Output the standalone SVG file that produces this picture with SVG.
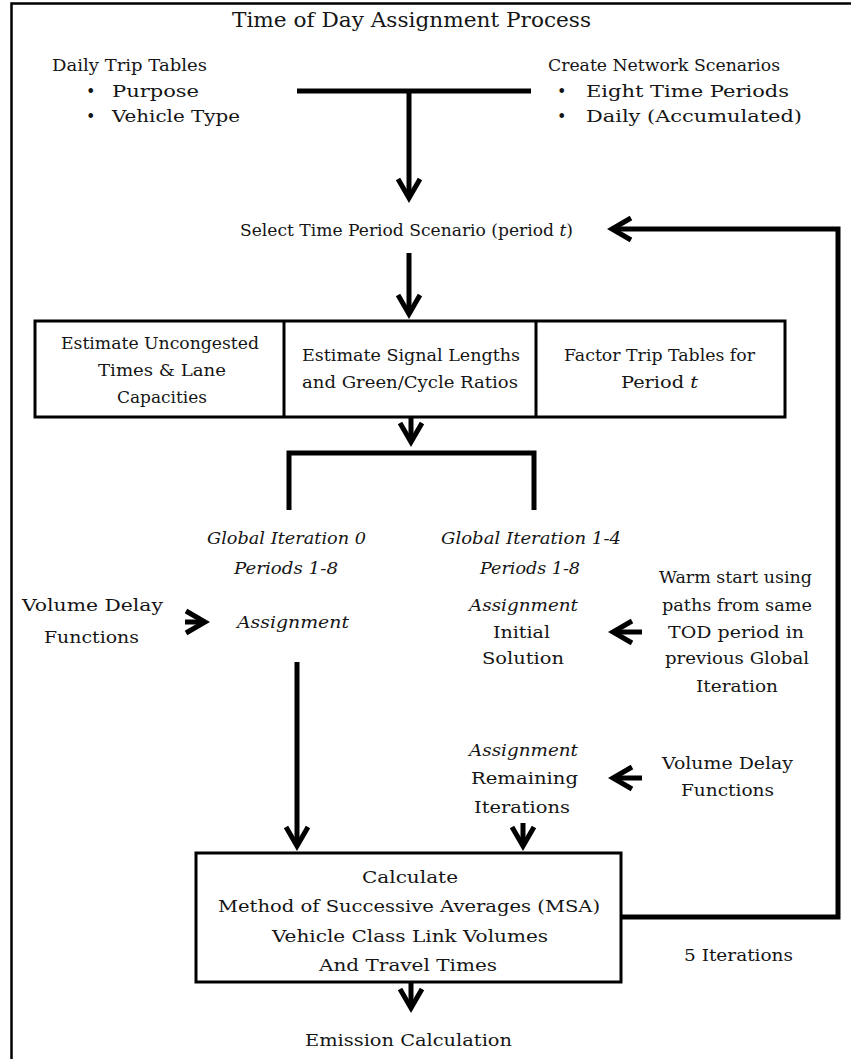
<svg xmlns="http://www.w3.org/2000/svg" width="851" height="1059" viewBox="0 0 851 1059">
<style>
.t{font-family:"DejaVu Serif","Liberation Serif",serif;font-size:16px;fill:#151515}
.i{font-style:italic}
.ttl{font-size:20px}
.ln{fill:none;stroke:#000;stroke-width:5}
.ar{fill:none;stroke:#000;stroke-width:5;marker-end:url(#chev)}
.box{fill:#fff;stroke:#000;stroke-width:3}
.frame{fill:none;stroke:#000;stroke-width:2.5}
</style>
<defs>
<marker id="chev" markerUnits="userSpaceOnUse" markerWidth="40" markerHeight="40" viewBox="-25 -20 40 40" refX="0" refY="0" orient="auto" overflow="visible">
<path d="M-19,-11 L0,0 L-19,11" fill="none" stroke="#000" stroke-width="5" stroke-linejoin="miter"/>
</marker>
</defs>

<g id="frame">
<polyline class="frame" points="11.5,1059 11.5,3.5 851,3.5"/>
</g>

<g id="title">
<text class="t ttl" x="232" y="27" textLength="359" lengthAdjust="spacingAndGlyphs">Time of Day Assignment Process</text>
</g>

<g id="connectors">
<line class="ln" x1="297" y1="91" x2="531" y2="91"/>
<line class="ar" x1="409" y1="91" x2="409" y2="198"/>
<line class="ar" x1="409" y1="253" x2="409" y2="314"/>
<line class="ar" x1="411" y1="417" x2="411" y2="442"/>
<polyline class="ln" points="289,510 289,453 534,453 534,510"/>
<polyline class="ar" points="621,917 838,917 838,229 612,229"/>
<line class="ar" x1="185" y1="622" x2="205" y2="622"/>
<line class="ar" x1="642" y1="632" x2="613" y2="632"/>
<line class="ar" x1="642" y1="778" x2="613" y2="778"/>
<line class="ar" x1="297" y1="662" x2="297" y2="846"/>
<line class="ar" x1="523" y1="823" x2="523" y2="846"/>
<line class="ar" x1="411" y1="982" x2="411" y2="1008"/>
</g>

<g id="daily-trip-tables">
<text class="t" x="52" y="71" textLength="155" lengthAdjust="spacingAndGlyphs">Daily Trip Tables</text>
<text class="t" x="86" y="97">•</text>
<text class="t" x="112" y="97" textLength="87" lengthAdjust="spacingAndGlyphs">Purpose</text>
<text class="t" x="86" y="122">•</text>
<text class="t" x="112" y="122" textLength="128" lengthAdjust="spacingAndGlyphs">Vehicle Type</text>
</g>

<g id="network-scenarios">
<text class="t" x="548" y="71" textLength="232" lengthAdjust="spacingAndGlyphs">Create Network Scenarios</text>
<text class="t" x="557" y="97">•</text>
<text class="t" x="586" y="97" textLength="203" lengthAdjust="spacingAndGlyphs">Eight Time Periods</text>
<text class="t" x="557" y="122">•</text>
<text class="t" x="586" y="122" textLength="216" lengthAdjust="spacingAndGlyphs">Daily (Accumulated)</text>
</g>

<g id="select-period">
<text class="t" x="240" y="236" textLength="333" lengthAdjust="spacingAndGlyphs">Select Time Period Scenario (period <tspan class="i">t</tspan>)</text>
</g>

<g id="estimate-box">
<rect class="box" x="35" y="321" width="750" height="96"/>
<line x1="284" y1="321" x2="284" y2="417" stroke="#000" stroke-width="3"/>
<line x1="536" y1="321" x2="536" y2="417" stroke="#000" stroke-width="3"/>
<text class="t" x="61" y="349" textLength="198" lengthAdjust="spacingAndGlyphs">Estimate Uncongested</text>
<text class="t" x="98" y="376" textLength="128" lengthAdjust="spacingAndGlyphs">Times &amp; Lane</text>
<text class="t" x="117" y="403" textLength="90" lengthAdjust="spacingAndGlyphs">Capacities</text>
<text class="t" x="302" y="361" textLength="218" lengthAdjust="spacingAndGlyphs">Estimate Signal Lengths</text>
<text class="t" x="302" y="388" textLength="216" lengthAdjust="spacingAndGlyphs">and Green/Cycle Ratios</text>
<text class="t" x="564" y="361" textLength="191" lengthAdjust="spacingAndGlyphs">Factor Trip Tables for</text>
<text class="t" x="621" y="388" textLength="77" lengthAdjust="spacingAndGlyphs">Period <tspan class="i">t</tspan></text>
</g>

<g id="global-iteration-0">
<text class="t i" x="207" y="544" textLength="159" lengthAdjust="spacingAndGlyphs">Global Iteration 0</text>
<text class="t i" x="234" y="574" textLength="104" lengthAdjust="spacingAndGlyphs">Periods 1-8</text>
<text class="t i" x="237" y="628" textLength="112" lengthAdjust="spacingAndGlyphs">Assignment</text>
</g>

<g id="global-iteration-1-4">
<text class="t i" x="441" y="544" textLength="180" lengthAdjust="spacingAndGlyphs">Global Iteration 1-4</text>
<text class="t i" x="480" y="574" textLength="100" lengthAdjust="spacingAndGlyphs">Periods 1-8</text>
</g>

<g id="vdf-left">
<text class="t" x="22" y="611" textLength="141" lengthAdjust="spacingAndGlyphs">Volume Delay</text>
<text class="t" x="44" y="643" textLength="95" lengthAdjust="spacingAndGlyphs">Functions</text>
</g>

<g id="assignment-initial">
<text class="t i" x="469" y="611" textLength="109" lengthAdjust="spacingAndGlyphs">Assignment</text>
<text class="t" x="493" y="638" textLength="57" lengthAdjust="spacingAndGlyphs">Initial</text>
<text class="t" x="482" y="664" textLength="82" lengthAdjust="spacingAndGlyphs">Solution</text>
</g>

<g id="warm-start">
<text class="t" x="659" y="583" textLength="153" lengthAdjust="spacingAndGlyphs">Warm start using</text>
<text class="t" x="662" y="611" textLength="150" lengthAdjust="spacingAndGlyphs">paths from same</text>
<text class="t" x="668" y="638" textLength="136" lengthAdjust="spacingAndGlyphs">TOD period in</text>
<text class="t" x="665" y="664" textLength="144" lengthAdjust="spacingAndGlyphs">previous Global</text>
<text class="t" x="696" y="692" textLength="82" lengthAdjust="spacingAndGlyphs">Iteration</text>
</g>

<g id="assignment-remaining">
<text class="t i" x="469" y="756" textLength="109" lengthAdjust="spacingAndGlyphs">Assignment</text>
<text class="t" x="471" y="784" textLength="107" lengthAdjust="spacingAndGlyphs">Remaining</text>
<text class="t" x="474" y="813" textLength="96" lengthAdjust="spacingAndGlyphs">Iterations</text>
</g>

<g id="vdf-right">
<text class="t" x="662" y="769" textLength="131" lengthAdjust="spacingAndGlyphs">Volume Delay</text>
<text class="t" x="681" y="796" textLength="93" lengthAdjust="spacingAndGlyphs">Functions</text>
</g>

<g id="calculate-box">
<rect class="box" x="196" y="853" width="425" height="129"/>
<text class="t" x="362" y="883" textLength="96" lengthAdjust="spacingAndGlyphs">Calculate</text>
<text class="t" x="218" y="912" textLength="382" lengthAdjust="spacingAndGlyphs">Method of Successive Averages (MSA)</text>
<text class="t" x="272" y="942" textLength="276" lengthAdjust="spacingAndGlyphs">Vehicle Class Link Volumes</text>
<text class="t" x="319" y="971" textLength="178" lengthAdjust="spacingAndGlyphs">And Travel Times</text>
</g>

<g id="iterations-label">
<text class="t" x="684" y="961" textLength="109" lengthAdjust="spacingAndGlyphs">5 Iterations</text>
</g>

<g id="emission">
<text class="t" x="305" y="1046" textLength="207" lengthAdjust="spacingAndGlyphs">Emission Calculation</text>
</g>
</svg>
